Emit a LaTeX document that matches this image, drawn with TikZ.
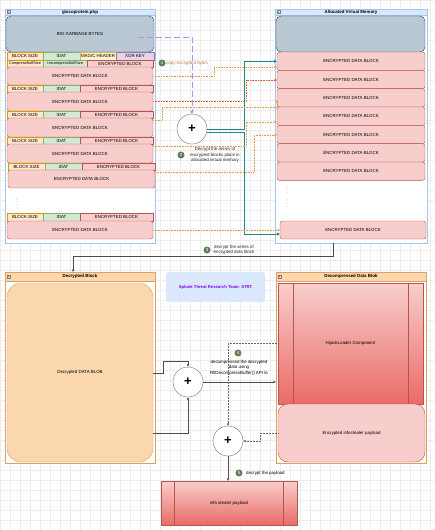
\documentclass[tikz,border=0pt]{standalone}
\usepackage{fontspec}
\setmainfont{Liberation Sans}
\usetikzlibrary{calc,arrows.meta}
\definecolor{lanefill}{HTML}{DAE8FC}
\definecolor{lanedraw}{HTML}{A9C4EB}
\definecolor{bytefill}{HTML}{BAC8D3}
\definecolor{bytedraw}{HTML}{23445D}
\definecolor{sizefill}{HTML}{FFE6CC}
\definecolor{sizedraw}{HTML}{D79B00}
\definecolor{idatfill}{HTML}{D5E8D4}
\definecolor{idatdraw}{HTML}{82B366}
\definecolor{magicfill}{HTML}{FFF2CC}
\definecolor{magicdraw}{HTML}{D6B656}
\definecolor{keyfill}{HTML}{E1D5E7}
\definecolor{keydraw}{HTML}{9673A6}
\definecolor{encfill}{HTML}{F8CECC}
\definecolor{encdraw}{HTML}{B85450}
\definecolor{encdark}{HTML}{EA6B66}
\definecolor{blobfill}{HTML}{FAD7AC}
\definecolor{blobdraw}{HTML}{E0A060}
\definecolor{numgreen}{HTML}{60805A}
\definecolor{copyline}{HTML}{E39A45}
\definecolor{copyred}{HTML}{E0602A}
\definecolor{feedline}{HTML}{1E8C8C}
\definecolor{rawline}{HTML}{C08AF5}
\definecolor{strt}{HTML}{7F00FF}

\begin{document}
\begin{tikzpicture}[x=1pt,y=-1pt,font=\fontsize{4.4}{5.4}\selectfont,
  box/.style={draw, inner sep=0pt, outer sep=0pt, anchor=north west},
  wh/.style 2 args={minimum width=#1pt, minimum height=#2pt},
  sizecell/.style={box, fill=sizefill, draw=sizedraw},
  idatcell/.style={box, fill=idatfill, draw=idatdraw},
  magiccell/.style={box, fill=magicfill, draw=magicdraw},
  keycell/.style={box, fill=keyfill, draw=keydraw},
  enccell/.style={box, fill=encfill, draw=encdraw},
  edb/.style={enccell, rounded corners=2.5pt},
  bytes/.style={box, fill=bytefill, draw=bytedraw, rounded corners=5pt},
  lane/.style={box, draw=lanedraw, fill=white},
  blobnode/.style={box, fill=blobfill, draw=blobdraw},
  proc/.style={box, top color=encfill, bottom color=encdark, draw=encdraw},
  plus/.style={circle, draw=black!55, fill=white, minimum size=30pt, inner sep=0pt,
    font=\fontsize{13}{13}\selectfont\bfseries},
  stepnum/.style={circle, fill=numgreen, text=white, minimum size=7pt, inner sep=0pt},
  note/.style={align=center, text=black!85, inner sep=0pt},
  narrow/.style={font=\fontsize{3.85}{4.6}\selectfont},
  copy/.style={copyline, densely dotted, line width=0.6pt, -{Triangle[length=2.5pt,width=2.5pt]}},
  feed/.style={feedline, line width=0.8pt, -{Triangle[length=3pt,width=3pt]}},
  flow/.style={black!70, line width=0.5pt, -{Stealth[length=3pt,width=2.5pt]}},
  hint/.style={black!60, densely dotted, line width=0.5pt, -{Stealth[length=3pt,width=2.5pt]}}]

\useasboundingbox (0,0) rectangle (434,530);
\fill[white] (0,0) rectangle (434,530);
\draw[black!7, line width=0.3pt] (0,0) grid[step=10pt] (434,530);

% left lane
\node[lane, wh={150}{234}] (lc) at (5,9) {};
\draw[fill=lanefill, draw=lanedraw] (lc.north west) rectangle ($(lc.north east)+(0,6)$);
\node[font=\fontsize{4.4}{5.4}\selectfont\bfseries] at ($(lc.north)+(0,3)$) {glucoprotein.php};
\draw[black!50, line width=0.3pt] (7,10.5) rectangle (10,13.5) (7.7,12) -- (9.3,12);

\node[bytes, wh={148}{36}] (gb) at (6,16) {BIG GARBAGE BYTES};
\coordinate (src) at (138,37);

\node[sizecell, wh={36}{8}] (hs) at (7,52) {BLOCK SIZE};
\node[idatcell, wh={37}{8}] (hi) at (43,52) {IDAT};
\node[magiccell, wh={36}{8}] (hm) at (80,52) {MAGIC HEADER};
\node[keycell, wh={38}{8}] (hk) at (116,52) {XOR KEY};
\node[sizecell, narrow, wh={36}{7}] (cs) at (7,60) {CompressBuffSize};
\node[idatcell, narrow, wh={44}{7}] (us) at (43,60) {UncompressBuffSize};
\node[enccell, wh={66}{7}] (eb1) at (87,60) {ENCRYPTED BLOCK};
\node[edb, wh={146}{18}] (l1) at (7,67) {ENCRYPTED DATA BLOCK};

\foreach \y/\n in {85/2,111/3,137/4} {
  \node[sizecell, wh={36}{7}] (bs\n) at (7,\y) {BLOCK SIZE};
  \node[idatcell, wh={37}{7}] (id\n) at (43,\y) {IDAT};
  \node[enccell, wh={73}{7}] (eb\n) at (80,\y) {ENCRYPTED BLOCK};
  \node[edb, wh={146}{19}] (l\n) at (7,\y+7) {ENCRYPTED DATA BLOCK};
}

\node[sizecell, wh={37}{7}] (bs5) at (8,163) {BLOCK SIZE};
\node[idatcell, wh={37}{7}] (id5) at (45,163) {IDAT};
\node[enccell, wh={73}{7}] (eb5) at (82,163) {ENCRYPTED BLOCK};
\node[edb, wh={147}{18}] (l5) at (8,170) {ENCRYPTED DATA BLOCK};

\foreach \d in {199,202,205,208} \fill[black!60] (17,\d) circle (0.45pt);

\node[sizecell, wh={36}{8}] (bs6) at (7,213) {BLOCK SIZE};
\node[idatcell, wh={37}{8}] (id6) at (43,213) {IDAT};
\node[enccell, wh={73}{8}] (eb6) at (80,213) {ENCRYPTED BLOCK};
\node[edb, wh={146}{18}] (l6) at (7,221) {ENCRYPTED DATA BLOCK};

% right lane
\node[lane, wh={152}{234}] (rc) at (275,9) {};
\draw[fill=lanefill, draw=lanedraw] (rc.north west) rectangle ($(rc.north east)+(0,6)$);
\node[font=\fontsize{4.4}{5.4}\selectfont\bfseries] at ($(rc.north)+(0,3)$) {Allocated Virtual Memory};
\draw[black!50, line width=0.3pt] (277,10.5) rectangle (280,13.5) (277.7,12) -- (279.3,12);

\node[bytes, wh={149}{36}] (vm) at (276,16) {};
\foreach \i in {1,...,7}
  \node[edb, wh={148}{18.33}] (r\i) at (277,{52+18.33*(\i-1)}) {ENCRYPTED DATA BLOCK};
\foreach \d in {187,190,193,200,203,206} \fill[black!60] (287,\d) circle (0.45pt);
\node[edb, wh={146}{18}] (r8) at (280,221) {ENCRYPTED DATA BLOCK};

% decrypt step
\node[plus] (p1) at (192,129) {+};
\node[stepnum] (n1) at (162,63) {1};
\node[anchor=west, text=copyline!80!black, inner sep=0pt] (t1) at (166,63) {copy encrypted bytes};
\node[stepnum] (n2) at (181,155) {2};
\node[note] (t2) at (215,155) {Decrypt the series of\\encrypted blocks place in\\allocated virtual memory};

\draw[rawline, line width=0.9pt, dash pattern=on 6pt off 3pt,
  -{Triangle[length=3pt,width=3.5pt]}] (src) -| (p1.north);

\draw[feed] (p1.east) -| ($(r1.west)+(-33,0)$) -- (r1.west);
\draw[feed] ($(p1.east)+(0,3)$) -| ($(r8.west)+(-36,4)$) -- ($(r8.west)+(0,4)$);

\draw[copy] (l1.east) -| (214,67) -- (r1.west |- 0,67);
\draw[copy, copyred] (l2.east) -| (246,80) -- (r2.west |- 0,80);
\draw[copy] ($(l3.north east)+(0,2)$) -| (162,107) -| ($(r3.south west)+(0,-7)$);
\draw[copy] ($(l4.north east)+(0,2)$) -| (246,122) -- (r4.west |- 0,122);
\draw[copy] ($(l5.north east)+(0,2)$) -| (254,135) -- (r5.west |- 0,135);
\draw[copy] (l6.east) -- (r8.west |- l6.east);

% decrypted block
\node[stepnum] (n3) at (207,250) {3};
\node[note] (t3) at (234,250) {decrypt the series of\\encrypted data block};

\node[lane, draw=blobdraw, wh={150}{191}] (db) at (5,272) {};
\draw[fill=blobfill, draw=blobdraw] (db.north west) rectangle ($(db.north east)+(0,9)$);
\node[font=\fontsize{4.4}{5.4}\selectfont\bfseries] at ($(db.north)+(0,4.5)$) {Decrypted Block};
\draw[black!50, line width=0.3pt] (7,275) rectangle (10,278) (7.7,276.5) -- (9.3,276.5);
\node[blobnode, rounded corners=14pt, wh={146}{179}] (blob) at (7,283) {Decrypted DATA BLOB};

\draw[flow] (333,0 |- rc.south) |- (73,256) -- (73,0 |- db.north);

\node[box, draw=none, fill=lanefill, rounded corners=3pt, wh={99}{30},
  text=strt, font=\fontsize{4.2}{5}\selectfont\bfseries] (strt) at (166,272)
  {Splunk Threat Research Team- STRT};

% decompressed blob
\node[lane, draw=blobdraw, wh={150}{191}] (dc) at (276,272) {};
\draw[fill=blobfill, draw=blobdraw] (dc.north west) rectangle ($(dc.north east)+(0,9)$);
\node[font=\fontsize{4.4}{5.4}\selectfont\bfseries] at ($(dc.north)+(0,4.5)$) {Decompressed Data Blob};
\draw[black!50, line width=0.3pt] (278,275) rectangle (281,278) (278.7,276.5) -- (280.3,276.5);
\node[proc, wh={145}{121}] (hj) at (278,283) {HijackLoader Component};
\draw[encdraw] ([xshift=15pt]hj.north west) -- ([xshift=15pt]hj.south west);
\draw[encdraw] ([xshift=-15pt]hj.north east) -- ([xshift=-15pt]hj.south east);
\node[enccell, rounded corners=10pt, wh={147}{58}] (pay) at (278,404) {Encrypted infostealer payload};

\node[plus] (p2) at (188,382) {+};
\draw[flow] (blob.east |- 0,373) -| (163,361) -| (p2.north);
\draw[flow] (blob.east |- 0,433) -| (p2.south);
\draw[flow] (p2.east) -- (dc.west |- p2.east);
\node[stepnum] (n4) at (238,353) {4};
\node[note, text=black] (t4) at (239,367.5) {decompressed the decrypted\\data using\\RtlDecompressBuffer() API to};

\node[plus] (p3) at (228,441) {+};
\draw[hint] (hj.west |- 0,343) -| (p3.north);
\draw[hint] (pay.west) -| (260,441) -- (p3.east);

\node[proc, wh={136}{44}] (info) at (161,481) {info stealer payload};
\draw[encdraw] ([xshift=13pt]info.north west) -- ([xshift=13pt]info.south west);
\draw[encdraw] ([xshift=-14pt]info.north east) -- ([xshift=-14pt]info.south east);
\draw[flow] (p3.south) -- (info.north -| p3.south);
\node[stepnum] (n5) at (239,473) {5};
\node[anchor=west, inner sep=0pt] (t5) at (246,473) {decrypt the payload};

\end{tikzpicture}
\end{document}
